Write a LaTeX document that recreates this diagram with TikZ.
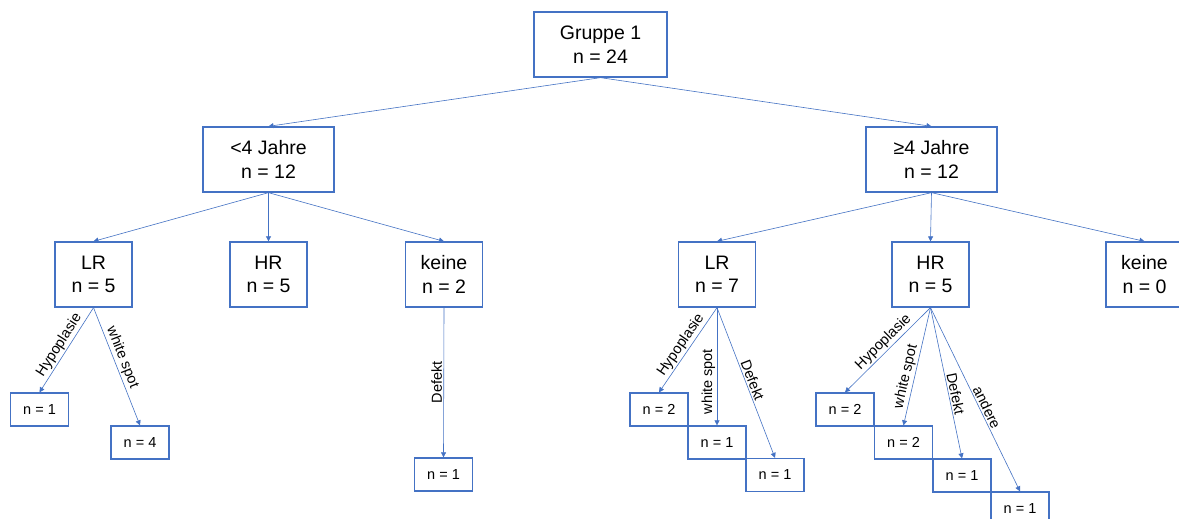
\documentclass[tikz,border=0pt]{standalone}
\usepackage{fontspec}
\setmainfont{Liberation Sans}
\usetikzlibrary{arrows.meta}
\definecolor{bl}{HTML}{4472C4}
\begin{document}
\begin{tikzpicture}[x=1pt,y=-1pt,
  big/.style={draw=bl, line width=1.3pt, inner sep=0pt, minimum width=77pt, minimum height=65pt, align=center, font=\fontsize{19.5}{23.5}\selectfont},
  small/.style={draw=bl, line width=1.3pt, inner sep=0pt, minimum width=58pt, minimum height=33pt, font=\fontsize{14.5}{17}\selectfont},
  conn/.style={draw=bl, line width=0.6pt, -{Triangle[width=5pt,length=5pt]}},
  lab/.style={font=\fontsize{14.5}{17}\selectfont, inner sep=1.5pt}]
\useasboundingbox (0,0) rectangle (1179,519);
\fill[white] (0,0) rectangle (1179,519);
\clip (0,0) rectangle (1179,519);

% level 1
\node[big, minimum width=133pt] (G) at (600.5,44.5) {Gruppe 1\\n = 24};
% level 2
\node[big, minimum width=131pt] (A) at (268.5,159.5) {<4 Jahre\\n = 12};
\node[big, minimum width=131pt] (B) at (931.5,159.5) {≥4 Jahre\\n = 12};
% level 3
\node[big] (LR1) at (93.5,274.5) {LR\\n = 5};
\node[big] (HR1) at (268.5,274.5) {HR\\n = 5};
\node[big] (K1) at (444,274.5) {keine\\n = 2};
\node[big] (LR2) at (717,274.5) {LR\\n = 7};
\node[big] (HR2) at (930.5,274.5) {HR\\n = 5};
\node[big] (K2) at (1144.5,274.5) {keine\\n = 0};
% level 4
\node[small] (a1) at (39.5,409.5) {n = 1};
\node[small] (a2) at (140,442.5) {n = 4};
\node[small] (k1) at (443.5,474.5) {n = 1};
\node[small] (b1) at (659,409.5) {n = 2};
\node[small] (b2) at (717,442.5) {n = 1};
\node[small] (b3) at (775,475) {n = 1};
\node[small] (c1) at (845,409.5) {n = 2};
\node[small] (c2) at (903.5,442.5) {n = 2};
\node[small] (c3) at (962,475.5) {n = 1};
\node[small] (c4) at (1020,508.5) {n = 1};

% connectors
\draw[conn] (G.south) -- (A.north);
\draw[conn] (G.south) -- (B.north);
\draw[conn] (A.south) -- (LR1.north);
\draw[conn] (A.south) -- (HR1.north);
\draw[conn] (A.south) -- (K1.north);
\draw[conn] (B.south) -- (LR2.north);
\draw[conn] (B.south) -- (HR2.north);
\draw[conn] (B.south) -- (K2.north);

\draw[conn] (LR1.south) -- node[lab, sloped, above, pos=0.5] {Hypoplasie} (a1.north);
\draw[conn] (LR1.south) -- node[lab, sloped, above, pos=0.45] {white spot} (a2.north);
\draw[conn] (K1.south) -- node[lab, pos=0.5, rotate=90, anchor=south] {Defekt} (k1.north);

\draw[conn] (LR2.south) -- node[lab, sloped, above, pos=0.5] {Hypoplasie} (b1.north);
\draw[conn] (LR2.south) -- node[lab, pos=0.63, rotate=90, anchor=south] {white spot} (b2.north);
\draw[conn] (LR2.south) -- node[lab, sloped, above, pos=0.5] {Defekt} (b3.north);

\draw[conn] (HR2.south) -- node[lab, sloped, above, pos=0.48] {Hypoplasie} (c1.north);
\draw[conn] (HR2.south) -- node[lab, sloped, above, pos=0.6] {white spot} (c2.north);
\draw[conn] (HR2.south) -- node[lab, sloped, above, pos=0.58] {Defekt} (c3.north);
\draw[conn] (HR2.south) -- node[lab, sloped, above, pos=0.56] {andere} (c4.north);
\end{tikzpicture}
\end{document}
